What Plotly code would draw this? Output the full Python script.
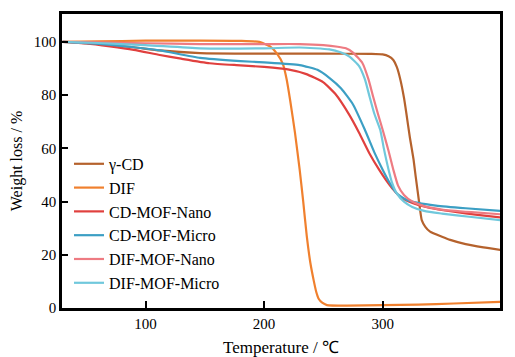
import plotly.graph_objects as go

names = ["γ-CD", "DIF", "CD-MOF-Nano", "CD-MOF-Micro", "DIF-MOF-Nano", "DIF-MOF-Micro"]
colors = ["#b5622d", "#f0802e", "#e0403e", "#3c9fc4", "#ee7b82", "#70c8dc"]

t_gcd = [30, 60, 90, 112, 146, 200, 250, 290, 300, 305, 309, 312, 315, 318, 320, 323, 326, 328, 331, 333, 336, 340, 350, 357, 370, 385, 400]
w_gcd = [100, 99.3, 98, 96.8, 95.8, 95.6, 95.6, 95.5, 95.3, 94.6, 93.2, 90.5, 85.7, 79, 73.2, 64, 56, 49, 39, 33, 30.5, 28.7, 26.8, 25.6, 24, 22.8, 21.8]

t_dif = [30, 60, 100, 146, 180, 196, 205, 211, 216, 219, 222, 226, 230, 233, 236, 239, 242, 244, 246, 249, 253, 270, 300, 330, 360, 400]
w_dif = [100, 100.2, 100.5, 100.5, 100.4, 100, 98.3, 95.5, 91.5, 86, 78, 66, 52, 40, 27, 17, 10, 6, 3.5, 2, 1.1, 0.9, 1.1, 1.3, 1.7, 2.3]

t_cdn = [30, 50, 70, 90, 112, 130, 154, 180, 200, 220, 235, 250, 260, 272, 280, 289, 297, 303, 309, 315, 322, 330, 340, 360, 380, 400]
w_cdn = [100, 99.4, 98.3, 97, 95.1, 93.7, 92, 91.2, 90.6, 89.7, 88, 84.8, 80.5, 72.5, 66, 58, 52, 48, 44.5, 41.7, 40, 38.7, 37.6, 36.2, 35, 34]

t_cdm = [30, 60, 90, 112, 146, 180, 200, 230, 245, 255, 265, 275, 285, 293, 300, 306, 312, 320, 330, 345, 370, 400]
w_cdm = [100, 99.3, 98, 96.8, 94, 92.8, 92.3, 91.3, 89.5, 86.5, 82.5, 76.5, 67, 58.5, 52, 47, 43, 40.7, 39.5, 38.5, 37.5, 36.5]

t_difn = [30, 60, 100, 146, 200, 230, 250, 262, 269, 275, 283, 288, 292, 296, 300, 305, 309, 313, 318, 325, 335, 350, 375, 400]
w_difn = [100, 99.8, 99.5, 99.2, 99.2, 99.2, 98.8, 98.2, 97.6, 96, 92, 86, 79.4, 73, 67, 59, 52, 46, 42.5, 40, 38.3, 37, 36, 35.2]

t_difm = [30, 60, 100, 146, 200, 230, 255, 265, 272, 280, 285, 289, 293, 298, 301, 305, 308, 312, 318, 325, 335, 350, 375, 400]
w_difm = [100, 99.6, 98.8, 97.6, 97.6, 97.9, 97.2, 96, 94.5, 91, 86, 79.4, 73, 66.9, 60, 52, 47, 43, 40, 38, 36.5, 35.5, 34.2, 33]

series = [(t_gcd, w_gcd), (t_dif, w_dif), (t_cdn, w_cdn), (t_cdm, w_cdm), (t_difn, w_difn), (t_difm, w_difm)]

x_ticks = [100, 200, 300, 400]
y_ticks = [0, 20, 40, 60, 80, 100]

fig = go.Figure()
for name, color, (t, w) in zip(names, colors, series):
    fig.add_trace(go.Scatter(x=t, y=w, mode="lines", name=name,
                             line=dict(color=color, width=2.2, shape="spline", smoothing=0.5)))

font_family = "Liberation Serif"
# page body has an 8px default margin, so the figure is 8px smaller and offsets are shifted
fig.update_layout(
    width=507, height=349,
    margin=dict(l=54, r=15, t=6, b=49),
    paper_bgcolor="white", plot_bgcolor="white",
    font=dict(family=font_family, color="black", size=15),
    legend=dict(x=0.016, y=0.548, xanchor="left", yanchor="top",
                bgcolor="rgba(0,0,0,0)", borderwidth=0,
                font=dict(family=font_family, size=16, color="black")),
    showlegend=True,
)
fig.update_xaxes(range=[29.5, 399], tickvals=x_ticks, ticks="inside", ticklen=7, tickwidth=2,
                 tickcolor="black", showline=True, linecolor="black", linewidth=2.5, mirror=True,
                 showgrid=False, zeroline=False, tickfont=dict(family=font_family, size=15),
                 automargin=False,
                 title=dict(text="Temperature / ℃", font=dict(family=font_family, size=17), standoff=14))
fig.update_yaxes(range=[0, 110.5], tickvals=y_ticks, ticks="inside", ticklen=6, tickwidth=2,
                 tickcolor="black", showline=True, linecolor="black", linewidth=2.5, mirror=True,
                 showgrid=False, zeroline=False, tickfont=dict(family=font_family, size=15),
                 automargin=False,
                 title=dict(text="Weight loss / %", font=dict(family=font_family, size=16)))

fig.write_html("out.html")
